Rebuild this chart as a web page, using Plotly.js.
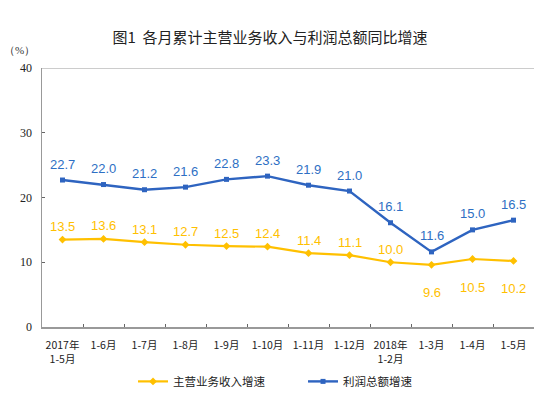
<!DOCTYPE html>
<html><head><meta charset="utf-8">
<script src="https://cdn.plot.ly/plotly-3.0.1.min.js"></script>
<style>body{margin:0;padding:0;background:#fff}#c{width:540px;height:396px}</style>
</head><body><div id="c"></div>
<script>
const categories = ["2017年<br>1-5月","1-6月","1-7月","1-8月","1-9月","1-10月","1-11月","1-12月","2018年<br>1-2月","1-3月","1-4月","1-5月"];
const revenueGrowth = [13.5,13.6,13.1,12.7,12.5,12.4,11.4,11.1,10.0,9.6,10.5,10.2];
const profitGrowth = [22.7,22.0,21.2,21.6,22.8,23.3,21.9,21.0,16.1,11.6,15.0,16.5];
const seriesNames = ["主营业务收入增速","利润总额增速"];
const yTicks = [0,10,20,30,40];

const yellow = "#ffc000", blue = "#2e64c0", blueText = "#2e6fc4";
const cjk = "Noto Sans CJK SC";
const serif = "Liberation Serif";

const traces = [
  {x: categories, y: revenueGrowth, name: seriesNames[0], type: "scatter", mode: "lines+markers",
   line: {color: yellow, width: 2.2}, marker: {symbol: "diamond", size: 6, color: yellow}},
  {x: categories, y: profitGrowth, name: seriesNames[1], type: "scatter", mode: "lines+markers",
   line: {color: blue, width: 2.4}, marker: {symbol: "square", size: 5, color: blue}}
];

const annotations = [];
revenueGrowth.forEach((v, i) => {
  const below = i >= 9;
  annotations.push({x: categories[i], y: v, xref: "x", yref: "y", text: v.toFixed(1), showarrow: false,
    yshift: below ? -28 : 13, font: {family: "Liberation Sans", size: 13, color: yellow}});
});
profitGrowth.forEach((v, i) => {
  annotations.push({x: categories[i], y: v, xref: "x", yref: "y", text: v.toFixed(1), showarrow: false,
    yshift: 16, font: {family: "Liberation Sans", size: 13, color: blueText}});
});
annotations.push({x: -0.045, y: 1.07, xref: "paper", yref: "paper", text: "（%）", showarrow: false,
  font: {family: serif, size: 11, color: "#333"}, xanchor: "center", yanchor: "middle"});

const layout = {
  width: 540, height: 396,
  margin: {l: 42, r: 6, t: 68, b: 69, autoexpand: false},
  paper_bgcolor: "#fff", plot_bgcolor: "#fff",
  title: {text: "图1  各月累计主营业务收入与利润总额同比增速", x: 0.5, xanchor: "center", y: 0.905, yanchor: "middle",
    font: {family: cjk, size: 15, color: "#222"}},
  showlegend: true,
  legend: {orientation: "h", x: 0.185, xanchor: "left", y: -0.21, yanchor: "middle",
    font: {family: cjk, size: 11.5, color: "#222"}, itemwidth: 30, tracegroupgap: 0,
    entrywidth: 125, entrywidthmode: "pixels"},
  xaxis: {type: "category", showline: true, linecolor: "#999", linewidth: 1.5, ticks: "inside", tickson: "boundaries",
    ticklen: 3, tickcolor: "#666", showgrid: false, zeroline: false, automargin: false, tickangle: 0,
    ticklabelstandoff: 8,
    tickfont: {family: cjk, size: 10.5, color: "#222"}, range: [-0.5, 11.5]},
  yaxis: {range: [0, 40], tickvals: yTicks, showline: true, linecolor: "#999", linewidth: 1.5, ticks: "inside",
    ticklen: 3, tickcolor: "#666", showgrid: false, zeroline: false, automargin: false, ticklabelstandoff: 6,
    tickfont: {family: serif, size: 12, color: "#222"}},
  shapes: [{type: "line", xref: "paper", yref: "y", x0: 0, x1: 1, y0: 40, y1: 40, line: {color: "#999", width: 1}}],
  annotations: annotations
};
Plotly.newPlot("c", traces, layout, {staticPlot: true, displayModeBar: false});
</script></body></html>
